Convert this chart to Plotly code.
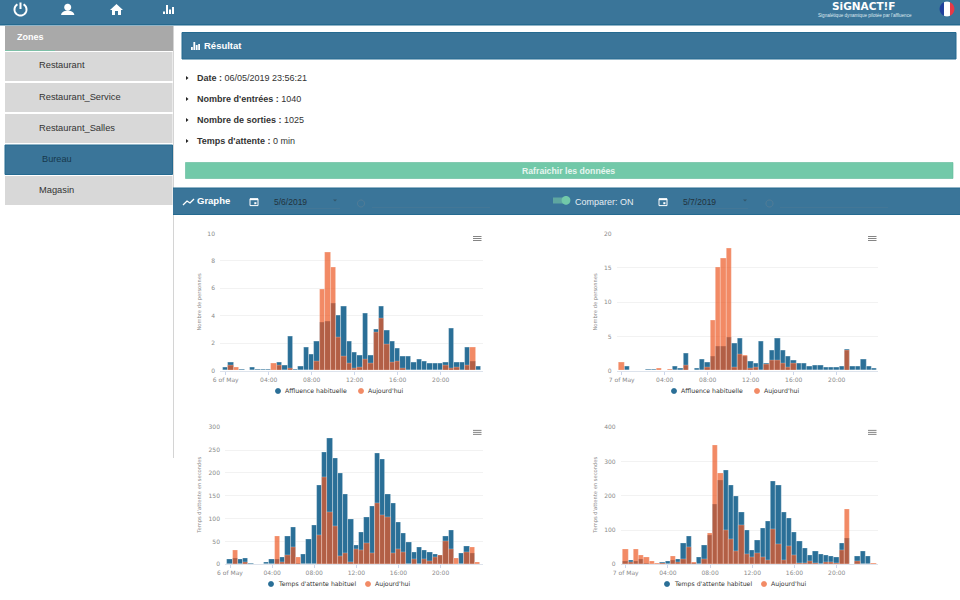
import math
import plotly.graph_objects as go

# ---------- data ----------
SLOT_HOURS = [h / 2 for h in range(48)]
TICK_HOURS = [0, 4, 8, 12, 16, 20]
TICK_TEXT_MAY6 = ["6 of May", "04:00", "08:00", "12:00", "16:00", "20:00"]
TICK_TEXT_MAY7 = ["7 of May", "04:00", "08:00", "12:00", "16:00", "20:00"]

visits_usual_a = [0.2, 0.6, 0, 0.1, 0, 0.2, 0.1, 0.1, 0.1, 0, 0.6, 0.4, 2.5, 0.1, 0.3, 1.7,
                  1.2, 2.1, 3.5, 3.6, 4.9, 4.0, 4.7, 2.1, 1.3, 1.1, 4.2, 1.1, 3.0, 4.7, 2.9, 2.1,
                  1.6, 1.0, 1.0, 0.6, 0.8, 0.7, 0.5, 0.5, 0.5, 0.6, 3.1, 0.6, 0.6, 1.7, 0.7, 0.3]
visits_today_a = [0, 0.4, 0.2, 0, 0, 0, 0, 0, 0, 0.5, 0.35, 0, 0.15, 0, 0, 0,
                  0, 0.7, 5.9, 8.6, 7.5, 2.4, 1.0, 0.5, 0.15, 0.2, 0.8, 0.5, 2.8, 3.8, 1.9, 0.6,
                  0.7, 0.15, 0, 0, 0, 0, 0, 0, 0, 0.35, 0.15, 0.2, 0, 0.35, 1.7, 0]
visits_usual_b = [0.1, 0.6, 0.1, 0.1, 0.1, 0.15, 0.15, 0.1, 0.1, 0.1, 0.6, 0.3, 2.5, 0.1, 0.3, 1.65,
                  1.15, 2.1, 3.5, 3.6, 4.9, 3.95, 4.65, 2.1, 1.3, 1.05, 4.2, 1.05, 3.0, 4.65, 2.9, 2.05,
                  1.55, 1.0, 1.0, 0.6, 0.8, 0.7, 0.5, 0.5, 0.5, 0.6, 3.1, 0.6, 0.6, 1.7, 0.65, 0.3]
visits_today_b = [1.15, 0, 0.1, 0.1, 0.1, 0, 0, 0.35, 0, 0.15, 0, 0, 0.8, 0, 0, 0.1,
                  0.5, 7.3, 15, 16.3, 17.8, 0.5, 2.4, 2.2, 0.3, 0.4, 0.1, 0.9, 1.55, 1.55, 1.1, 0.4,
                  1.1, 0, 0, 0, 0, 0, 0, 0, 0, 0, 3.0, 0, 0, 0, 0, 0.1]
wait_usual_a = [10, 14, 10, 14, 2, 1, 1, 5, 10, 12, 15, 62, 82, 3, 21, 55,
                86, 174, 245, 276, 232, 199, 153, 98, 41, 71, 104, 127, 243, 230, 153, 134,
                93, 67, 48, 27, 37, 30, 26, 23, 19, 61, 75, 1, 24, 39, 24, 1]
wait_today_a = [0, 31, 0, 5, 0, 0, 0, 0, 0, 62, 5, 20, 37, 15, 0, 0,
                0, 64, 190, 114, 84, 18, 24, 5, 32, 31, 45, 24, 134, 108, 102, 24,
                32, 27, 1, 11, 1, 10, 6, 15, 20, 50, 32, 13, 1, 27, 37, 4]
wait_usual_b = [10, 12, 10, 14, 2, 1, 1, 5, 10, 12, 15, 62, 82, 3, 21, 55,
                86, 174, 245, 275, 232, 199, 153, 98, 41, 71, 104, 127, 243, 230, 153, 134,
                93, 67, 48, 27, 37, 30, 26, 23, 19, 61, 75, 1, 24, 39, 24, 1]
wait_today_b = [44, 5, 43, 25, 20, 10, 3, 3, 1, 24, 5, 15, 50, 5, 1, 15,
                90, 348, 266, 100, 73, 38, 114, 28, 20, 32, 20, 12, 103, 58, 12, 53,
                25, 3, 3, 10, 3, 1, 5, 5, 3, 42, 160, 1, 8, 1, 1, 4]

zones = ["Restaurant", "Restaurant_Service", "Restaurant_Salles", "Bureau", "Magasin"]
info_lines = [("Date :", "06/05/2019 23:56:21"), ("Nombre d'entrées :", "1040"),
              ("Nombre de sorties :", "1025"), ("Temps d'attente :", "0 min")]

# ---------- style ----------
W, H = 960, 600
BAR = "#3a7599"
BAR_DARK = "#256a90"
USUAL = "#2a6f97"
TODAY = "rgba(236,89,36,0.70)"
PAGE_FONT = "Liberation Sans"
CHART_FONT = "DejaVu Sans"

shapes, notes = [], []
def X(x): return x / W
def Y(y): return 1 - y / H

def rect(x0, y0, x1, y1, fill, line=None, lw=0):
    shapes.append(dict(type="rect", xref="paper", yref="paper", x0=X(x0), x1=X(x1), y0=Y(y0), y1=Y(y1),
                       fillcolor=fill, line=dict(color=line or fill, width=lw), layer="below"))

def poly(points, fill=None, line=None, lw=0, close=True):
    d = "M " + " L ".join(f"{X(a):.5f} {Y(b):.5f}" for a, b in points) + (" Z" if close else "")
    shapes.append(dict(type="path", xref="paper", yref="paper", path=d, fillcolor=fill or "rgba(0,0,0,0)",
                       line=dict(color=line or "rgba(0,0,0,0)", width=lw), layer="below"))

def arc(cx, cy, r, a0=0, a1=360, n=36, sy=1):
    return [(cx + r * math.cos(math.radians(a0 + (a1 - a0) * i / n)),
             cy + sy * r * math.sin(math.radians(a0 + (a1 - a0) * i / n))) for i in range(n + 1)]

def text(x, y, s, size=9, color="#333", anchor="left", font=PAGE_FONT, angle=0):
    notes.append(dict(xref="paper", yref="paper", x=X(x), y=Y(y), text=s, showarrow=False, xanchor=anchor,
                      yanchor="middle", textangle=angle, font=dict(family=font, size=size, color=color),
                      borderpad=0, borderwidth=0))

def calendar(cx, cy):
    rect(cx - 4, cy - 3.2, cx + 4, cy + 3.6, "rgba(0,0,0,0)", "white", 1)
    rect(cx - 4, cy - 3.6, cx + 4, cy - 1.8, "white")
    rect(cx + 0.3, cy + 0.2, cx + 2.4, cy + 2.2, "white")

def bars_icon(x, y, heights, w=1.6, gap=2.6):
    for i, h in enumerate(heights):
        rect(x + i * gap, y - h, x + i * gap + w, y, "white")

# ---------- page chrome ----------
rect(0, 0, 960, 24.5, BAR)
rect(0, 24, 960, 25.5, BAR_DARK)

# nav icons
poly(arc(20.5, 9.5, 6, -60, 240), line="white", lw=2, close=False)
poly([(20.5, 2.5), (20.5, 9)], line="white", lw=2, close=False)
poly(arc(67.7, 7.3, 3.5), fill="white")
poly(arc(67.7, 15, 6.6, 180, 360, 14, sy=0.68), fill="white")
poly([(110, 10), (116.5, 4), (123, 10), (121, 10), (121, 15), (118, 15), (118, 11), (115, 11), (115, 15), (112, 15), (112, 10)], fill="white")
bars_icon(163, 14, [2.5, 9, 4.5, 7], 2, 3)

# logo and flag
text(864, 6.2, "<b>SiGNACT!F</b>", 10.5, "white", "center", "DejaVu Sans")
text(864.5, 16, "Signalétique dynamique pilotée par l'affluence", 4.6, "#dfe9ef", "center")
poly(arc(947, 9, 7.4, 114, 246), fill="#1f3f9c")
poly(arc(947, 9, 7.4, -66, 66), fill="#e63946")
poly(arc(947, 9, 7.4, 66, 114, 8) + arc(947, 9, 7.4, 246, 294, 8), fill="white")

# sidebar
rect(173, 26, 174, 458, "#d4d4d4")
rect(5, 26, 173, 51, "#a9a9a9")
rect(5, 50.2, 55, 51, "#72c9a9")
text(17, 37, "<b>Zones</b>", 9, "white")
item_tops = [52, 83, 114, 145, 176]
for name, top in zip(zones, item_tops):
    if name == "Bureau":
        rect(5, top, 172.5, top + 29.5, BAR, BAR_DARK, 1)
        text(42, top + 14, name, 9.2, "#17384c")
    else:
        rect(5, top, 172.5, top + 29, "#d8d8d8")
        text(39, top + 13.5, name, 9.3, "#333")

# result card
rect(182, 32.5, 956, 59, BAR, BAR_DARK, 1)
bars_icon(191, 50, [3, 8, 5, 6], 1.8, 2.4)
text(204, 45.5, "<b>Résultat</b>", 9.5, "white")
for (label, value), y in zip(info_lines, [78, 99, 120, 141]):
    poly([(186, y - 2), (188.5, y), (186, y + 2)], fill="#222")
    text(197, y, f"<b>{label}</b> {value}", 9, "#333")
rect(185.5, 162.5, 953, 178.5, "#72c9a9", "#5fb899", 0.6)
text(568, 170.5, "<b>Rafraichir les données</b>", 8.7, "#e6f5ef", "center")

# graph toolbar
rect(173, 188, 960, 214.5, BAR)
rect(173, 187.5, 960, 188.5, BAR_DARK)
rect(173, 214, 960, 215, BAR_DARK)
poly([(183, 205), (187, 201), (190, 203), (194, 199)], line="white", lw=1.3, close=False)
text(196.5, 201, "<b>Graphe</b>", 9.5, "white")
calendar(254, 202)
text(273.5, 202, "5/6/2019", 8.5, "#22333d")
poly([(333, 199.5), (337, 199.5), (335, 201.5)], fill="#33566c")
rect(273, 208.5, 340, 209, "#4c7a96")
poly(arc(361, 203.5, 3.5), line="#5a7f96", lw=0.8)
rect(372, 207.5, 490, 208, "#4c7a96")
rect(553, 197.5, 568, 203.5, "#5ea6a0")
poly(arc(566, 200.3, 4.4), fill="#72c9a9")
text(575, 201.5, "Comparer: ON", 9, "#e6eef3")
calendar(663, 202)
text(683, 202, "5/7/2019", 8.5, "#22333d")
poly([(743, 199.5), (747, 199.5), (745, 201.5)], fill="#33566c")
rect(683, 208.5, 748, 209, "#4c7a96")
poly(arc(769.5, 203.5, 3.5), line="#5a7f96", lw=0.8)
rect(780, 207.5, 888, 208, "#4c7a96")

# ---------- charts ----------
charts = [
    dict(ax="", left=220, right=483, zero=225.7, top=233.5, bottom=370.7, usual=visits_usual_a, today=visits_today_a,
         ymax=10, dtick=2, ticks=TICK_TEXT_MAY6, title="Nombre de personnes", usual_name="Affluence habituelle",
         pph=10.75, leg_x=275, leg_y=391, gap=83, title_x=199.5),
    dict(ax="2", left=616.7, right=878, zero=621.7, top=233.5, bottom=370.7, usual=visits_usual_b, today=visits_today_b,
         ymax=20, dtick=5, ticks=TICK_TEXT_MAY7, title="Nombre de personnes", usual_name="Affluence habituelle",
         pph=10.75, leg_x=671, leg_y=391, gap=83, title_x=595.5),
    dict(ax="3", left=225, right=483, zero=230, top=427.3, bottom=564.3, usual=wait_usual_a, today=wait_today_a,
         ymax=300, dtick=50, ticks=TICK_TEXT_MAY6, title="Temps d'attente en secondes", usual_name="Temps d'attente habituel",
         pph=10.53, leg_x=268, leg_y=584, gap=97, title_x=200),
    dict(ax="4", left=620.7, right=878, zero=625.7, top=427.3, bottom=564.3, usual=wait_usual_b, today=wait_today_b,
         ymax=400, dtick=100, ticks=TICK_TEXT_MAY7, title="Temps d'attente en secondes", usual_name="Temps d'attente habituel",
         pph=10.55, leg_x=664, leg_y=584, gap=97, title_x=596),
]

fig = go.Figure()
layout_axes = {}
for c in charts:
    xa, ya = "x" + c["ax"], "y" + c["ax"]
    fig.add_bar(x=SLOT_HOURS, y=c["usual"], name=c["usual_name"], xaxis=xa, yaxis=ya, width=0.5, showlegend=False,
                marker=dict(color=USUAL, line=dict(color="rgba(255,255,255,0.4)", width=0.8)))
    fig.add_bar(x=SLOT_HOURS, y=c["today"], name="Aujourd'hui", xaxis=xa, yaxis=ya, width=0.5, showlegend=False,
                marker=dict(color=TODAY, line=dict(color="rgba(255,255,255,0.3)", width=0.8)))
    layout_axes["xaxis" + c["ax"]] = dict(
        domain=[X(c["left"]), X(c["right"])], anchor=ya, automargin=False,
        range=[(c["left"] - c["zero"]) / c["pph"], (c["right"] - c["zero"]) / c["pph"]],
        tickmode="array", tickvals=TICK_HOURS, ticktext=c["ticks"], showgrid=False, zeroline=False,
        showline=True, linecolor="#dde3ec", linewidth=0.6, ticks="outside", ticklen=3, tickwidth=0.6, tickcolor="#ccd6eb",
        tickfont=dict(family=CHART_FONT, size=6, color="#8a8a8a"), fixedrange=True)
    layout_axes["yaxis" + c["ax"]] = dict(
        domain=[Y(c["bottom"]), Y(c["top"])], anchor=xa, automargin=False, range=[0, c["ymax"]], dtick=c["dtick"],
        showgrid=True, gridcolor="#f2f2f2", gridwidth=0.7, zeroline=False, showline=False, ticklabelstandoff=4,
        tickfont=dict(family=CHART_FONT, size=6, color="#8a8a8a"), ticks="", fixedrange=True)
    text(c["title_x"], (c["top"] + c["bottom"]) / 2, c["title"], 5.2, "#8a8a8a", "center", CHART_FONT, -90)
    # hamburger menu
    for dy in (0, 2, 4):
        rect(c["right"] - 10, c["top"] + 2.6 + dy, c["right"] - 1.5, c["top"] + 3.4 + dy, "#666")
    # legend
    ly, lx = c["leg_y"], c["leg_x"]
    poly(arc(lx + 3, ly, 2.9), fill=USUAL)
    text(lx + 9.5, ly, c["usual_name"], 6.2, "#333", font=CHART_FONT)
    lx2 = lx + c["gap"]
    poly(arc(lx2 + 3, ly, 2.9), fill="#f28b66")
    text(lx2 + 9.5, ly, "Aujourd'hui", 6.2, "#333", font=CHART_FONT)

fig.update_layout(width=W, height=H, autosize=False, margin=dict(l=0, r=0, t=0, b=0), paper_bgcolor="white",
                  plot_bgcolor="rgba(0,0,0,0)", barmode="overlay", bargap=0, shapes=shapes, annotations=notes,
                  showlegend=False, hovermode=False, **layout_axes)
fig.write_html("out.html", config=dict(displayModeBar=False),
               post_script="document.body.style.margin='0';document.body.style.overflow='hidden';")
